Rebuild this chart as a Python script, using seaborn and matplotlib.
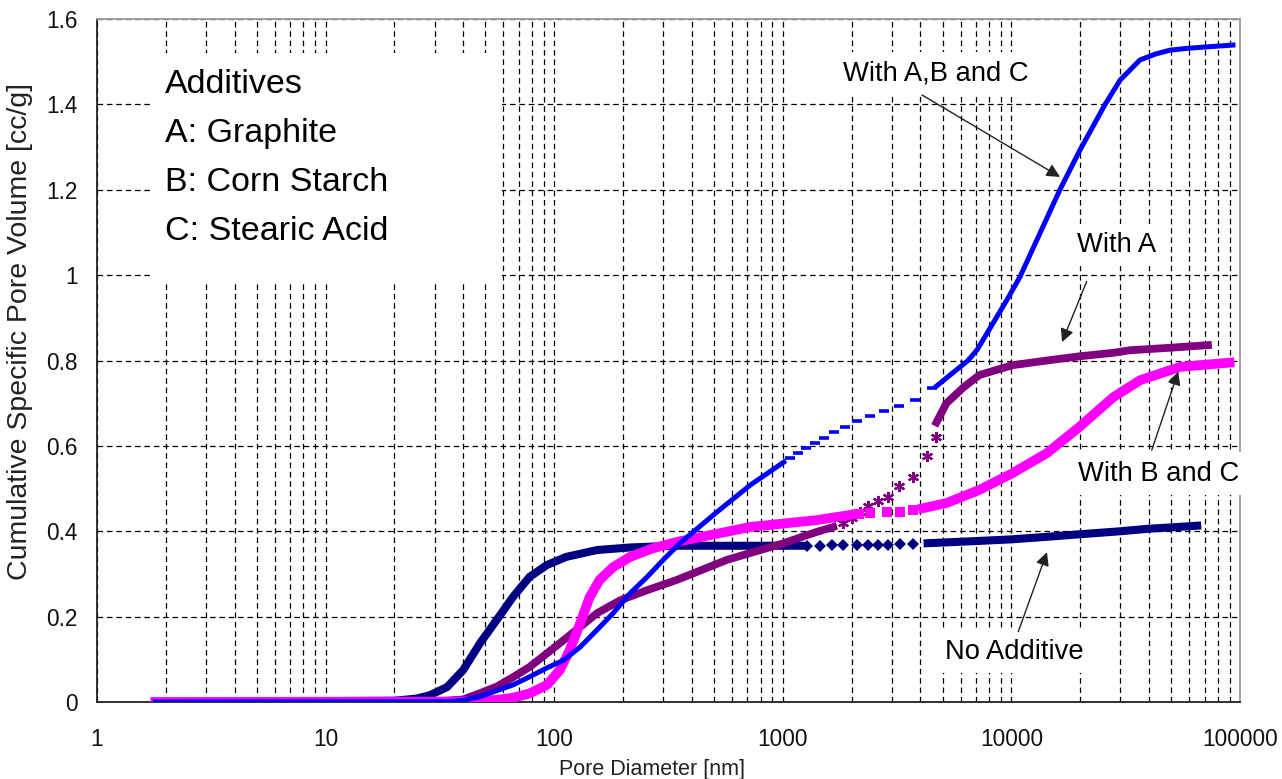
import matplotlib
matplotlib.use("Agg")
import matplotlib.pyplot as plt
from matplotlib.ticker import LogLocator, FixedLocator, FuncFormatter, NullFormatter
from matplotlib.patches import Rectangle
import seaborn as sns

# ---- No Additive (navy diamonds) ----
noadd_d_lo = [1.8, 20, 25, 28.6, 34, 40, 47.4, 56, 66, 78, 93, 113, 154, 215, 330, 500, 750, 1000, 1200]
noadd_v_lo = [0, 0.003, 0.008, 0.016, 0.035, 0.075, 0.138, 0.192, 0.246, 0.293, 0.321, 0.340, 0.356, 0.362, 0.366, 0.366, 0.366, 0.366, 0.366]
noadd_d_sp = [1276, 1454, 1642, 1834, 2112, 2360, 2608, 2884, 3258, 3713]
noadd_v_sp = [0.366, 0.366, 0.367, 0.367, 0.367, 0.368, 0.368, 0.368, 0.369, 0.369]
noadd_d_hi = [4300, 7000, 10000, 14300, 20000, 30000, 40000, 50000, 65000]
noadd_v_hi = [0.372, 0.377, 0.381, 0.387, 0.393, 0.400, 0.406, 0.409, 0.413]

# ---- With A (purple asterisks) ----
a_d_lo = [1.8, 30, 40, 47, 56, 66, 78, 93, 110, 130, 154, 194, 255, 344, 570, 720, 1010, 1200, 1400, 1660]
a_v_lo = [0, 0.001, 0.006, 0.020, 0.036, 0.058, 0.082, 0.114, 0.145, 0.176, 0.208, 0.238, 0.262, 0.286, 0.333, 0.349, 0.372, 0.386, 0.398, 0.410]
a_d_sp = [1840, 2000, 2177, 2366, 2617, 2895, 3234, 3724, 4260, 4677]
a_v_sp = [0.419, 0.430, 0.446, 0.458, 0.472, 0.481, 0.506, 0.528, 0.576, 0.620]
a_d_hi = [4700, 5200, 6200, 7250, 10100, 14300, 20000, 27900, 33000, 50000, 72400]
a_v_hi = [0.655, 0.700, 0.738, 0.766, 0.789, 0.800, 0.810, 0.818, 0.824, 0.830, 0.836]

# ---- With B and C (magenta squares) ----
bc_d_lo = [1.8, 40, 56, 66, 78, 93, 106, 117, 130, 143, 158, 181, 215, 270, 344, 720, 1400, 1960]
bc_v_lo = [0, 0.001, 0.005, 0.010, 0.020, 0.040, 0.075, 0.122, 0.185, 0.246, 0.286, 0.316, 0.340, 0.360, 0.375, 0.410, 0.426, 0.438]
bc_d_sp = [2150, 2410, 2860, 3250, 3713]
bc_v_sp = [0.440, 0.442, 0.444, 0.446, 0.449]
bc_d_hi = [4100, 5200, 7250, 10100, 14300, 19800, 27900, 36600, 54700, 90000]
bc_v_hi = [0.454, 0.466, 0.497, 0.536, 0.583, 0.644, 0.714, 0.754, 0.785, 0.795]

# ---- With A, B and C (blue dashes) ----
abc_d_lo = [1.8, 35, 40, 47, 66, 78, 93, 110, 130, 154, 181, 215, 255, 300, 355, 405, 515, 720, 1010]
abc_v_lo = [0, 0.001, 0.004, 0.012, 0.040, 0.059, 0.080, 0.098, 0.129, 0.169, 0.208, 0.255, 0.293, 0.333, 0.372, 0.398, 0.445, 0.508, 0.562]
abc_d_sp = [1075, 1165, 1265, 1385, 1515, 1675, 1870, 2110, 2410, 2770, 3225, 3790, 4480]
abc_v_sp = [0.572, 0.583, 0.595, 0.607, 0.618, 0.632, 0.644, 0.658, 0.670, 0.682, 0.693, 0.707, 0.735]
abc_d_hi = [4700, 6460, 7080, 9560, 10900, 16300, 19950, 25700, 29900, 36500, 42700, 49400, 58000, 68900, 93200]
abc_v_hi = [0.740, 0.800, 0.825, 0.942, 0.996, 1.200, 1.293, 1.400, 1.457, 1.504, 1.518, 1.527, 1.531, 1.534, 1.539]

x_ticks = [1, 10, 100, 1000, 10000, 100000]
y_ticks = [0, 0.2, 0.4, 0.6, 0.8, 1.0, 1.2, 1.4, 1.6]
legend_lines = ["Additives", "A: Graphite", "B: Corn Starch", "C: Stearic Acid"]

NAVY = "#000080"
PURPLE = "#800080"
MAGENTA = "#FF00FF"
BLUE = "#0000FF"

sns.set_theme(style="white")
plt.rcParams["font.family"] = ["Liberation Sans", "DejaVu Sans"]

fig = plt.figure(figsize=(12.82, 7.79), dpi=100)
fig.patch.set_facecolor("white")
ax = fig.add_axes([97 / 1282, 77 / 779, 1143 / 1282, 683 / 779])
ax.set_facecolor("white")


def band(d, v, color, lw):
    sns.lineplot(x=d, y=v, ax=ax, color=color, linewidth=lw, estimator=None,
                 sort=False, solid_capstyle="projecting", solid_joinstyle="round",
                 zorder=3)


def dots(d, v, color, marker, ms, mew):
    sns.lineplot(x=d, y=v, ax=ax, color=color, linestyle="", marker=marker,
                 markersize=ms, markeredgewidth=mew, markeredgecolor=color,
                 estimator=None, sort=False, zorder=3)


# No Additive
band(noadd_d_lo, noadd_v_lo, NAVY, 5.8)
dots(noadd_d_sp, noadd_v_sp, NAVY, "D", 6.0, 0)
band(noadd_d_hi, noadd_v_hi, NAVY, 5.8)
# With A
band(a_d_lo, a_v_lo, PURPLE, 5.6)
dots(a_d_sp, a_v_sp, PURPLE, (6, 2, 0), 8, 1.6)
band(a_d_hi, a_v_hi, PURPLE, 5.6)
# With B and C
band(bc_d_lo, bc_v_lo, MAGENTA, 7.0)
dots(bc_d_sp, bc_v_sp, MAGENTA, "s", 7.5, 0)
band(bc_d_hi, bc_v_hi, MAGENTA, 7.0)
# With A, B and C
band(abc_d_lo, abc_v_lo, BLUE, 3.6)
dots(abc_d_sp, abc_v_sp, BLUE, "_", 6.5, 2.6)
band(abc_d_hi, abc_v_hi, BLUE, 3.6)

# axes, scales and ticks
ax.set_xscale("log")
ax.set_xlim(1, 100000)
ax.set_ylim(0, 1.6)
ax.xaxis.set_major_locator(FixedLocator(x_ticks))
ax.xaxis.set_minor_locator(LogLocator(base=10, subs=range(2, 10), numticks=20))
ax.xaxis.set_minor_formatter(NullFormatter())
ax.xaxis.set_major_formatter(FuncFormatter(lambda v, p: f"{int(round(v))}"))
ax.yaxis.set_major_locator(FixedLocator(y_ticks))
ax.yaxis.set_major_formatter(FuncFormatter(lambda v, p: f"{v:g}"))

grid_kw = dict(color="black", linewidth=0.9, linestyle=(0, (4.5, 3)), zorder=1)
ax.grid(True, which="both", axis="x", **grid_kw)
ax.grid(True, which="major", axis="y", **grid_kw)
ax.set_axisbelow(True)

ax.tick_params(axis="x", which="major", direction="in", length=7, width=1.2,
               pad=19, labelsize=16.3, labelcolor="#111111", color="#333333")
ax.tick_params(axis="x", which="minor", length=0)
ax.tick_params(axis="y", which="major", direction="in", length=4, width=1.2,
               pad=14, labelsize=16.3, labelcolor="#111111", color="#333333")

for side in ("left", "bottom"):
    ax.spines[side].set_color("#222222")
    ax.spines[side].set_linewidth(1.3)
for side in ("top", "right"):
    ax.spines[side].set_color("#9a9a9a")
    ax.spines[side].set_linewidth(1.3)
for s in ax.spines.values():
    s.set_zorder(2.5)

ax.set_xlabel("Pore Diameter [nm]", fontsize=15.5, color="#222222")
ax.set_ylabel("Cumulative Specific Pore Volume [cc/g]", fontsize=20.5, color="#222222")
ax.xaxis.set_label_coords(0.486, -0.084)
ax.yaxis.set_label_coords(-0.056, 0.543)

# additive key box
ax.add_patch(Rectangle((0.049, 0.615), 0.305, 0.335, transform=ax.transAxes,
                       facecolor="white", edgecolor="none", zorder=4))
for i, line in enumerate(legend_lines):
    ax.text(0.0595, 0.8917 - i * 0.0717, line, transform=ax.transAxes,
            fontsize=24.5, color="black", va="baseline", ha="left", zorder=5)

# series labels with arrows
box = dict(facecolor="white", edgecolor="none", pad=6)
labels = [
    ("With A,B and C", (1834, 1.473), (4064, 1.422), (16320, 1.230)),
    ("With A", (19360, 1.070), (21350, 0.985), (16650, 0.843)),
    ("With B and C", (19550, 0.535), (41100, 0.590), (53700, 0.774)),
    ("No Additive", (5123, 0.118), (10720, 0.165), (14310, 0.351)),
]
for text, pos, tail, tip in labels:
    ax.text(pos[0], pos[1], text, fontsize=19.7, color="black", ha="left",
            va="center", bbox=box, zorder=6, clip_on=False)
    ax.annotate("", xy=tip, xytext=tail, zorder=6, annotation_clip=False,
                arrowprops=dict(arrowstyle="-|>", color="#222222", lw=1.0,
                                mutation_scale=20, shrinkA=0, shrinkB=0))

fig.savefig("out.png", dpi=100, facecolor="white")
